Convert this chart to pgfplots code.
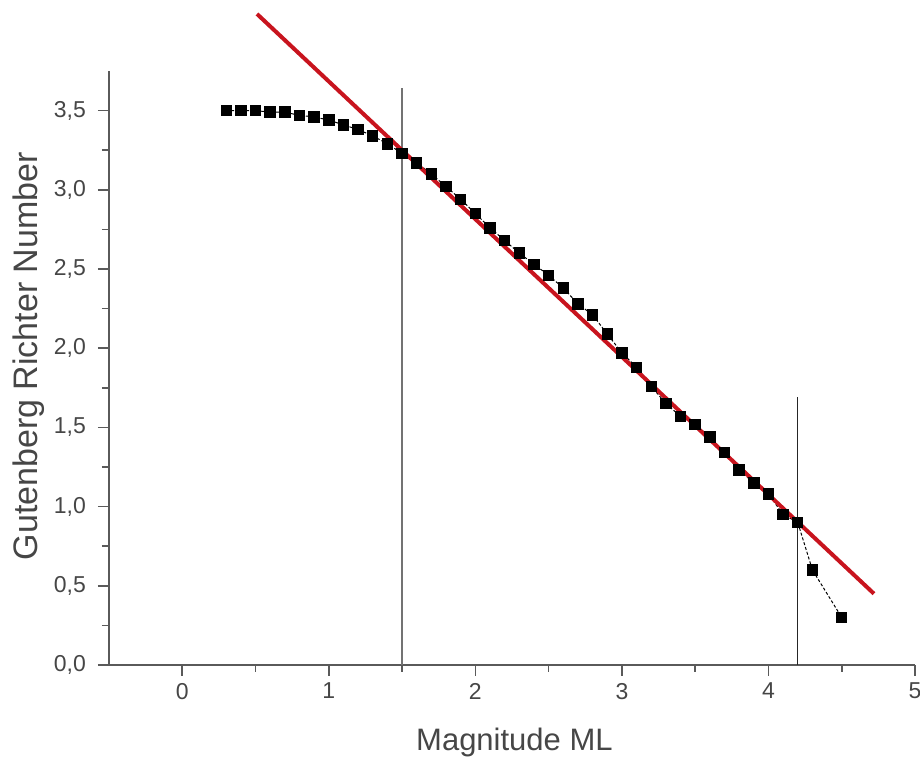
\documentclass[border=0pt]{standalone}
\usepackage{pgfplots}
\pgfplotsset{compat=1.18}
\usepackage{fontspec}
\setmainfont{Liberation Sans}

\definecolor{fitred}{RGB}{200,20,30}
\definecolor{axgray}{RGB}{90,90,90}
\definecolor{txtgray}{RGB}{70,70,70}

\begin{document}
\begin{tikzpicture}
\begin{axis}[
  name=ax,
  scale only axis,
  width=403pt, height=297pt,
  xmin=-0.5, xmax=5,
  ymin=0, ymax=3.75,
  clip=false,
  axis x line=bottom, axis y line=left,
  axis line style={-, axgray, line width=1pt},
  tick align=outside,
  tick style={axgray, line width=0.8pt},
  major tick length=5.5pt, minor tick length=3.5pt,
  xtick={0,1,2,3,4,5}, minor x tick num=1,
  ytick={0,0.5,...,3.5}, minor y tick num=1,
  /pgf/number format/assume math mode=true,
  ticklabel style={font=\fontsize{11.5}{13}\selectfont, text=txtgray},
  yticklabel style={/pgf/number format/.cd, fixed, fixed zerofill, precision=1, use comma},
  yticklabel shift=2.5pt,
  xticklabel shift=0pt,
  xlabel={Magnitude ML},
  ylabel={Gutenberg Richter Number},
  xlabel style={font=\fontsize{15.5}{17}\selectfont, text=txtgray,
    at={(axis description cs:0.503,0)}, anchor=center, yshift=-38.5pt},
  ylabel style={font=\fontsize{17}{19}\selectfont, text=txtgray,
    at={(axis description cs:-0.1,0.52)}, anchor=center},
]
% cumulative Gutenberg-Richter counts
\addplot[black, line width=0.5pt, dash pattern=on 1.5pt off 1pt,
  mark=square*, mark size=2.6pt, mark options={solid, fill=black}]
coordinates {
(0.3,3.50) (0.4,3.50) (0.5,3.50) (0.6,3.49) (0.7,3.49) (0.8,3.47)
(0.9,3.46) (1.0,3.44) (1.1,3.41) (1.2,3.38) (1.3,3.34) (1.4,3.29)
(1.5,3.23) (1.6,3.17) (1.7,3.10) (1.8,3.02) (1.9,2.94) (2.0,2.85)
(2.1,2.76) (2.2,2.68) (2.3,2.60) (2.4,2.53) (2.5,2.46) (2.6,2.38)
(2.7,2.28) (2.8,2.21) (2.9,2.09) (3.0,1.97) (3.1,1.88) (3.2,1.76)
(3.3,1.65) (3.4,1.57) (3.5,1.52) (3.6,1.44) (3.7,1.34) (3.8,1.23)
(3.9,1.15) (4.0,1.08) (4.1,0.95) (4.2,0.90) (4.3,0.60) (4.5,0.30)
};
% fit range limits
\addplot[black!55, line width=1pt] coordinates {(1.5,0) (1.5,3.64)};
\addplot[black!85, line width=0.7pt] coordinates {(4.2,0) (4.2,1.69)};
% linear fit
\addplot[fitred, line width=2pt] coordinates {(0.51,4.11) (4.72,0.45)};
\end{axis}
\pgfresetboundingbox
\useasboundingbox (ax.south west) ++(-54.5pt,-46.5pt) rectangle ++(460pt,379pt);
\end{tikzpicture}
\end{document}
